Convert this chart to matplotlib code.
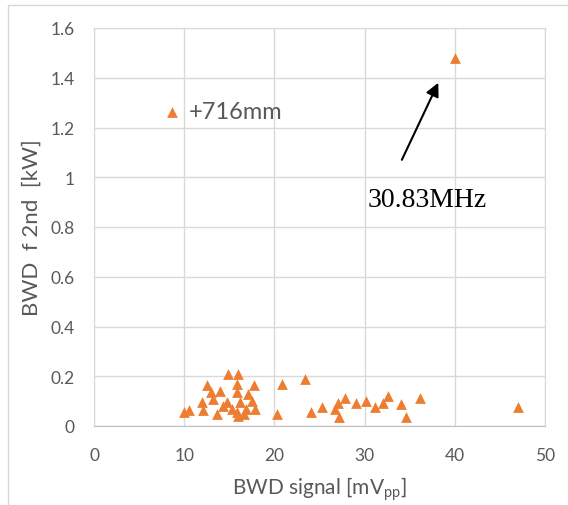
import matplotlib.pyplot as plt
import matplotlib.patches as patches

# BWD signal [mVpp] vs BWD f 2nd [kW], +716mm position
sig_mv = [10.5, 12.0, 12.1, 12.5, 13.0, 13.6, 14.0, 14.9, 14.8, 16.0,
          15.8, 15.8, 15.3, 15.8, 16.0, 17.7, 17.1, 17.5, 16.9, 17.9,
          14.3, 16.2, 16.6, 20.3, 10.0, 13.2,
          20.8, 23.4, 24.1, 25.3, 26.7, 27.1, 27.2, 27.8, 29.0, 30.1,
          31.1, 32.0, 32.6, 34.0, 34.6, 36.1, 47.0, 40.0]
power_kw = [0.065, 0.098, 0.065, 0.165, 0.135, 0.048, 0.142, 0.209, 0.096, 0.209,
            0.169, 0.135, 0.068, 0.055, 0.041, 0.165, 0.128, 0.102, 0.068, 0.068,
            0.082, 0.096, 0.048, 0.048, 0.058, 0.11,
            0.169, 0.189, 0.058, 0.078, 0.068, 0.091, 0.038, 0.111, 0.091, 0.102,
            0.078, 0.091, 0.119, 0.088, 0.038, 0.111, 0.078, 1.48]

x_ticks = [0, 10, 20, 30, 40, 50]
y_ticks = [0, 0.2, 0.4, 0.6, 0.8, 1.0, 1.2, 1.4, 1.6]
y_labels = ["0", "0.2", "0.4", "0.6", "0.8", "1", "1.2", "1.4", "1.6"]

orange = "#ED7D31"
grey = "#595959"
plt.rcParams['font.family'] = ['Lato', 'DejaVu Sans']

fig = plt.figure(figsize=(5.68, 5.06), dpi=100)
ax = fig.add_axes([94/568, 79/506, 451/568, 398/506])

# chart frame like Excel
fig.patches.append(patches.Rectangle((8/568, -0.1), 1.2, 1 - 6/506 + 0.1,
                                     transform=fig.transFigure, fill=False,
                                     edgecolor="#D9D9D9", lw=1))

ax.scatter(sig_mv, power_kw, marker="^", s=60, c=orange, lw=0,
           label="+716mm", zorder=3)

ax.set_xlim(0, 50)
ax.set_ylim(0, 1.6)
ax.set_xticks(x_ticks)
ax.set_yticks(y_ticks)
ax.set_yticklabels(y_labels)
ax.grid(True, color="#D9D9D9", lw=1)
ax.set_axisbelow(True)
for s in ax.spines.values():
    s.set_color("#D9D9D9")
ax.spines["bottom"].set_color("#BFBFBF")
ax.tick_params(length=0, labelsize=12.5, colors=grey)
ax.tick_params(axis="x", pad=15)
ax.tick_params(axis="y", pad=14)

ax.set_xlabel("BWD signal [mV$_{\\mathregular{pp}}$]", fontsize=15, color=grey, labelpad=8)
ax.set_ylabel("BWD  f 2nd  [kW]", fontsize=16, color=grey, labelpad=6)

ax.legend(loc="upper left", bbox_to_anchor=(0.1, 0.87), frameon=False,
          fontsize=17, labelcolor=grey, handletextpad=0.2, handlelength=1.0,
          markerscale=1.0)

ax.annotate("", xy=(38.3, 1.39), xytext=(34.0, 1.06),
            arrowprops=dict(arrowstyle="-|>", color="black", lw=1.5,
                            mutation_scale=20))
ax.text(36.9, 0.91, "30.83MHz", fontsize=20, family="Liberation Serif",
        ha="center", va="center", color="black")

plt.savefig("out.png", dpi=100)
